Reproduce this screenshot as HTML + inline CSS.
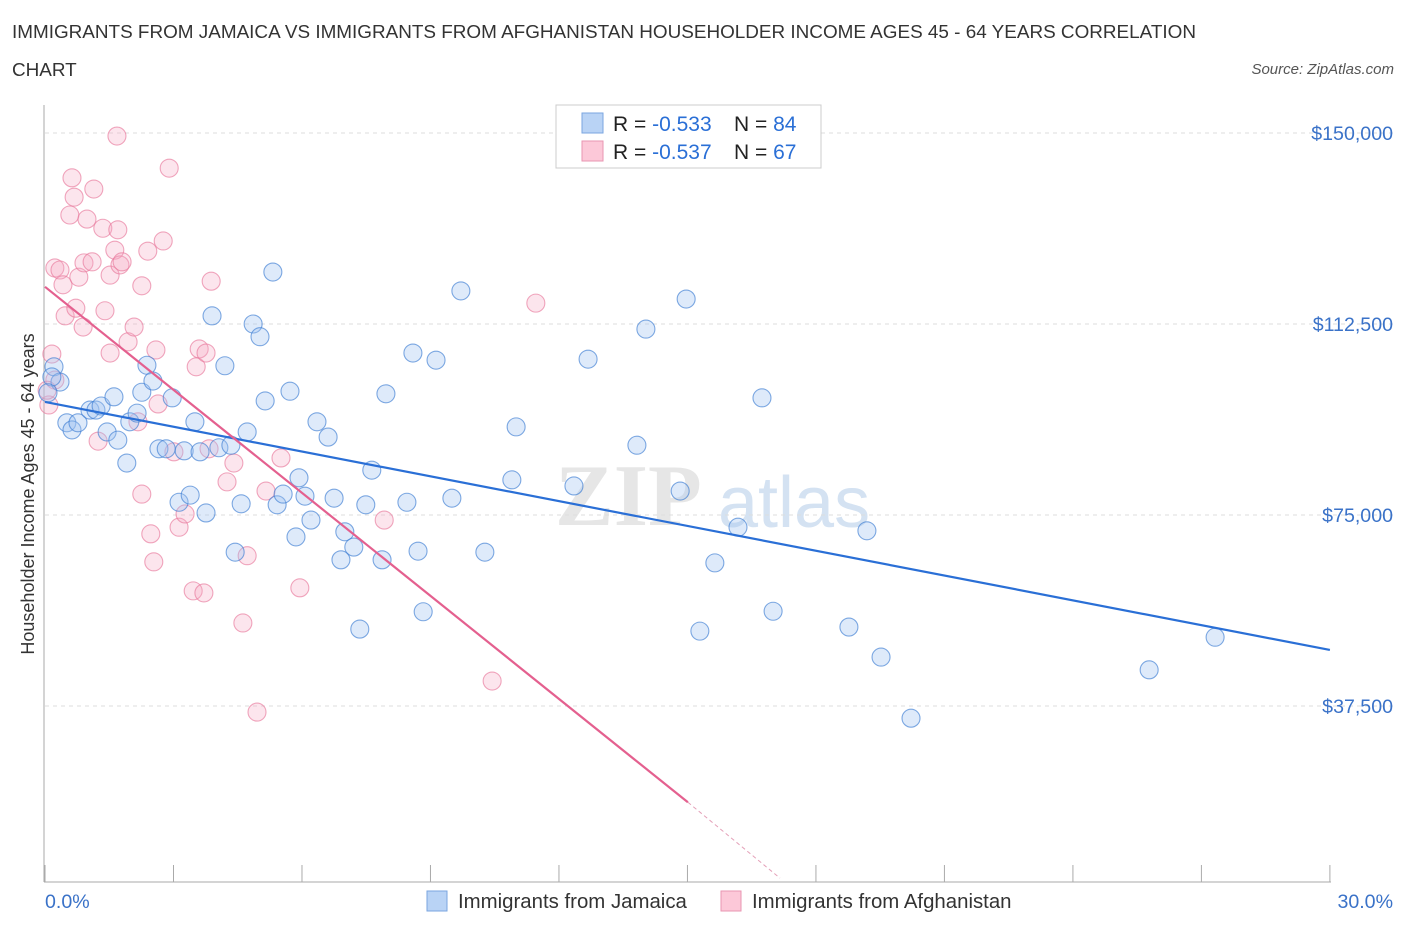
<!DOCTYPE html>
<html><head><meta charset="utf-8">
<style>
body{margin:0;background:#fff;font-family:"Liberation Sans",sans-serif;}
#wrap{position:relative;width:1406px;height:930px;overflow:hidden;}
.t{position:absolute;white-space:nowrap;}
</style></head>
<body>
<div id="wrap">
<div class="t" style="left:12px;top:14px;font-size:18.9px;color:#333;line-height:38px;">IMMIGRANTS FROM JAMAICA VS IMMIGRANTS FROM AFGHANISTAN HOUSEHOLDER INCOME AGES 45 - 64 YEARS CORRELATION<br>CHART</div>
<div class="t" style="right:12px;top:61px;font-size:15px;font-style:italic;color:#555;">Source: ZipAtlas.com</div>
<svg id="chart" width="1406" height="930" style="position:absolute;left:0;top:0"></svg>
</div>
<script>
const blueX=[0.21,0.35,0.16,0.07,0.51,0.63,0.77,1.05,1.19,1.31,1.45,1.61,1.70,1.91,1.98,2.15,2.26,2.38,2.52,2.66,2.83,2.97,3.13,3.25,3.39,3.50,3.62,3.76,3.90,4.06,4.20,4.34,4.44,4.58,4.72,4.86,5.02,5.14,5.32,5.42,5.56,5.72,5.86,5.93,6.07,6.21,6.35,6.61,6.75,6.91,7.00,7.21,7.35,7.49,7.63,7.87,7.96,8.45,8.59,8.71,8.83,9.13,9.50,9.71,10.27,10.90,11.00,12.35,12.68,13.82,14.03,14.83,14.97,15.29,15.64,16.18,16.74,17.00,18.77,19.19,19.52,20.22,25.78,27.32];
const blueY=[104.1,101.1,102.1,99.0,93.1,91.7,93.1,95.6,95.6,96.4,91.3,98.2,89.7,85.2,93.3,95.0,99.1,104.4,101.3,88.0,88.0,98.0,77.5,87.6,78.9,93.3,87.4,75.4,114.1,88.2,104.3,88.7,67.7,77.2,91.3,112.5,110.0,97.4,122.7,77.0,79.1,99.3,70.7,82.3,78.7,74.0,93.3,90.3,78.3,66.2,71.7,68.7,52.6,77.0,83.8,66.2,98.8,77.5,106.8,67.9,56.0,105.4,78.3,119.0,67.7,81.9,92.3,80.7,105.6,88.7,111.5,79.7,117.4,52.2,65.6,72.6,98.0,56.1,53.0,71.9,47.1,35.1,44.6,51.0];
const pinkX=[0.09,0.16,0.23,0.35,0.42,0.47,0.58,0.63,0.68,0.72,0.79,0.89,0.91,0.98,1.10,1.14,1.24,1.35,1.40,1.52,1.52,1.63,1.68,1.70,1.75,1.80,1.94,2.08,2.17,2.26,2.26,2.40,2.47,2.54,2.59,2.64,2.76,2.90,3.01,3.13,3.27,3.46,3.53,3.60,3.71,3.76,3.83,3.88,4.25,4.41,4.62,4.72,4.95,5.16,5.51,5.95,7.92,10.44,11.46,0.23,0.05];
const pinkY=[96.6,106.6,123.5,123.1,120.2,114.1,133.9,141.2,137.4,115.6,121.7,111.9,124.5,133.1,124.7,139.0,89.5,131.3,115.1,106.8,122.1,127.0,149.4,131.0,124.1,124.7,109.0,111.9,93.3,120.0,79.1,126.8,71.3,65.8,107.4,96.8,128.8,143.1,87.4,72.6,75.2,60.1,104.1,107.6,59.7,106.8,88.0,120.9,81.5,85.2,53.8,67.0,36.3,79.7,86.2,60.7,74.0,42.4,116.6,101.5,99.5];
const blueTrendX=[0,30];
const blueTrendY=[97.2,48.5];
const pinkTrendX=[0,15.01];
const pinkTrendY=[119.8,18.6];
const pinkDashX=[15.01,17.16];
const pinkDashY=[18.6,3.7];
const yTicks=[150,112.5,75,37.5];
const yTickLabels=["$150,000","$112,500","$75,000","$37,500"];
const xTicks=[0,3,6,9,12,15,18,21,24,27,30];

const svg=document.getElementById('chart');
const NS='http://www.w3.org/2000/svg';
const X=v=>45+v*42.83;
const Y=v=>133+(150-v)/0.19634;
function mk(tag,attrs){const e=document.createElementNS(NS,tag);for(const k in attrs)e.setAttribute(k,attrs[k]);svg.appendChild(e);return e;}

let wm=mk('text',{x:555,y:525,'font-size':88,'font-family':'Liberation Serif, serif','font-weight':'bold',fill:'#e6e6e6'});wm.textContent='ZIP';


let wm2=mk('text',{x:718,y:527,'font-size':72,'font-family':'Liberation Sans, sans-serif',fill:'#d4e2f2'});wm2.textContent='atlas';



yTicks.forEach((v,i)=>{
 let g=mk('line',{x1:45,x2:1395,y1:Y(v),y2:Y(v),stroke:'#ddd','stroke-dasharray':'4,4'});
 
 
 let t=mk('text',{x:1393,y:Y(v)+7,'text-anchor':'end','font-size':19.6,fill:'#3a72c8'});t.textContent=yTickLabels[i];
 
 
});
let ax=mk('line',{x1:44,x2:44,y1:105,y2:882,stroke:'#aaa'});


let bx=mk('line',{x1:44,x2:1331,y1:882,y2:882,stroke:'#aaa'});


xTicks.forEach(v=>{
 let l=mk('line',{x1:X(v),x2:X(v),y1:865,y2:882,stroke:'#aaa'});
 
 
});

function dots(xs,ys,fill,stroke,name){
 xs.forEach((x,i)=>{
  let c=mk('circle',{cx:X(x),cy:Y(ys[i]),r:9,fill:fill,stroke:stroke,'stroke-width':1.1});
  
  
 });
}
dots(pinkX,pinkY,'rgba(246,170,195,0.3)','rgba(232,120,155,0.65)','afghanistan-point');
dots(blueX,blueY,'rgba(160,195,240,0.35)','rgba(60,125,210,0.65)','jamaica-point');

let bl=mk('line',{x1:X(blueTrendX[0]),y1:Y(blueTrendY[0]),x2:X(blueTrendX[1]),y2:Y(blueTrendY[1]),stroke:'#2a6fd6','stroke-width':2.2});


let pl=mk('line',{x1:X(pinkTrendX[0]),y1:Y(pinkTrendY[0]),x2:X(pinkTrendX[1]),y2:Y(pinkTrendY[1]),stroke:'#e4608f','stroke-width':2.2});


let pd=mk('line',{x1:X(pinkDashX[0]),y1:Y(pinkDashY[0]),x2:X(pinkDashX[1]),y2:Y(pinkDashY[1]),stroke:'#e4a0b8','stroke-width':1,'stroke-dasharray':'4,3'});



let yt=mk('text',{x:0,y:0,'font-size':18,fill:'#333','text-anchor':'middle',transform:'translate(34,494) rotate(-90)'});yt.textContent='Householder Income Ages 45 - 64 years';


let x0=mk('text',{x:45,y:908,'font-size':19.6,fill:'#3a72c8'});x0.textContent='0.0%';


let x1=mk('text',{x:1393,y:908,'font-size':19.6,fill:'#3a72c8','text-anchor':'end'});x1.textContent='30.0%';



let lb=mk('rect',{x:556,y:105,width:265,height:63,fill:'#fff',stroke:'#ccc'});


[[123,'#b9d3f5','#7aa6e0','-0.533','84'],[151,'#fcc8d8','#e896b2','-0.537','67']].forEach((r,i)=>{
 let s=mk('rect',{x:582,y:r[0]-10,width:21,height:20,fill:r[1],stroke:r[2]});
 
 
 let t=mk('text',{x:613,y:r[0]+8,'font-size':21,fill:'#222'});
 t.innerHTML='R = <tspan fill="#2a6fd6">'+r[3]+'</tspan><tspan x="734">N = </tspan><tspan fill="#2a6fd6">'+(i?' ':'')+r[4]+'</tspan>';
 
 
});
[[427,'#b9d3f5','#7aa6e0','Immigrants from Jamaica'],[721,'#fcc8d8','#e896b2','Immigrants from Afghanistan']].forEach((r,i)=>{
 let s=mk('rect',{x:r[0],y:891,width:20,height:20,fill:r[1],stroke:r[2]});
 
 
 let t=mk('text',{x:r[0]+31,y:908,'font-size':20.4,fill:'#333'});t.textContent=r[3];
 
 
});
</script>
</body></html>
